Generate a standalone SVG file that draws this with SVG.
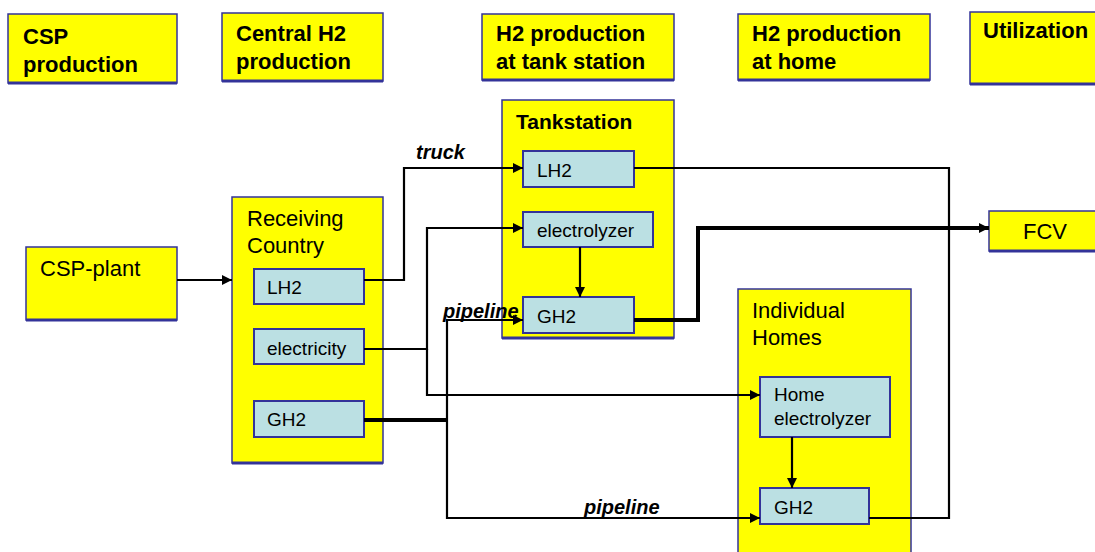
<svg xmlns="http://www.w3.org/2000/svg" width="1095" height="552" viewBox="0 0 1095 552">
<style>
.box{fill:#FFFF00;stroke:#333399;stroke-width:1.5}
.sub{fill:#BBE0E3;stroke:#333399;stroke-width:2}
.sh{stroke:#333399;stroke-width:3;fill:none}
.hd{font-family:"Liberation Sans",Arial,sans-serif;font-weight:bold;font-size:22px;fill:#000}
.tt{font-family:"Liberation Sans",Arial,sans-serif;font-size:22px;fill:#000}
.tb{font-family:"Liberation Sans",Arial,sans-serif;font-weight:bold;font-size:21px;fill:#000}
.st{font-family:"Liberation Sans",Arial,sans-serif;font-size:19px;fill:#000}
.lb{font-family:"Liberation Sans",Arial,sans-serif;font-weight:bold;font-style:italic;font-size:20px;fill:#000}
.c{fill:none;stroke:#000;stroke-width:2.2}
.ck{fill:none;stroke:#000;stroke-width:4}
</style>
<defs>
<marker id="ah" markerUnits="userSpaceOnUse" markerWidth="10" markerHeight="10" refX="10" refY="5" orient="auto">
<path d="M0,0 L10,5 L0,10 z" fill="#000"/>
</marker>
</defs>
<rect width="1095" height="552" fill="#fff"/>

<g id="hdr-csp">
<rect class="box" x="8" y="14" width="169" height="69"/><line class="sh" x1="8" y1="83" x2="177" y2="83"/>
<text class="hd" x="23" y="44">CSP</text><text class="hd" x="23" y="72">production</text>
</g>
<g id="hdr-central">
<rect class="box" x="222" y="13" width="161" height="68"/><line class="sh" x1="222" y1="81" x2="383" y2="81"/>
<text class="hd" x="236" y="41">Central H2</text><text class="hd" x="236" y="69">production</text>
</g>
<g id="hdr-tank">
<rect class="box" x="482" y="14" width="192" height="66"/><line class="sh" x1="482" y1="80" x2="674" y2="80"/>
<text class="hd" x="496" y="41">H2 production</text><text class="hd" x="496" y="69">at tank station</text>
</g>
<g id="hdr-home">
<rect class="box" x="738" y="14" width="192" height="66"/><line class="sh" x1="738" y1="80" x2="930" y2="80"/>
<text class="hd" x="752" y="41">H2 production</text><text class="hd" x="752" y="69">at home</text>
</g>
<g id="hdr-util">
<rect class="box" x="970" y="12" width="130" height="72"/><line class="sh" x1="970" y1="84" x2="1095" y2="84"/>
<text class="hd" x="983" y="38">Utilization</text>
</g>

<g id="csp-plant">
<rect class="box" x="26" y="247" width="151" height="73"/><line class="sh" x1="26" y1="320" x2="177" y2="320"/>
<text class="tt" x="40" y="276">CSP-plant</text>
</g>

<g id="receiving">
<rect class="box" x="232" y="197" width="151" height="266"/><line class="sh" x1="232" y1="463" x2="383" y2="463"/>
<text class="tt" x="247" y="226">Receiving</text><text class="tt" x="247" y="253">Country</text>
</g>
<g id="rc-lh2"><rect class="sub" x="254" y="269" width="110" height="35"/><text class="st" x="267" y="294">LH2</text></g>
<g id="rc-elec"><rect class="sub" x="254" y="329" width="110" height="35"/><text class="st" x="267" y="355">electricity</text></g>
<g id="rc-gh2"><rect class="sub" x="254" y="401" width="110" height="36"/><text class="st" x="267" y="426">GH2</text></g>

<g id="tankstation">
<rect class="box" x="502" y="100" width="172" height="238"/><line class="sh" x1="502" y1="338" x2="674" y2="338"/>
<text class="tb" x="516" y="129">Tankstation</text>
</g>
<g id="ts-lh2"><rect class="sub" x="523" y="151" width="111" height="36"/><text class="st" x="537" y="177">LH2</text></g>
<g id="ts-elec"><rect class="sub" x="523" y="212" width="130" height="35"/><text class="st" x="537" y="237">electrolyzer</text></g>
<g id="ts-gh2"><rect class="sub" x="523" y="297" width="111" height="36"/><text class="st" x="537" y="323">GH2</text></g>

<g id="fcv">
<rect class="box" x="989" y="211" width="110" height="40"/><line class="sh" x1="989" y1="251" x2="1095" y2="251"/>
<text class="tt" x="1023" y="239">FCV</text>
</g>

<g id="homes">
<rect class="box" x="738" y="289" width="173" height="270"/>
<text class="tt" x="752" y="318">Individual</text><text class="tt" x="752" y="345">Homes</text>
</g>
<g id="home-elec"><rect class="sub" x="760" y="377" width="130" height="60"/><text class="st" x="774" y="401">Home</text><text class="st" x="774" y="425">electrolyzer</text></g>
<g id="home-gh2"><rect class="sub" x="760" y="488" width="109" height="36"/><text class="st" x="774" y="514">GH2</text></g>

<g id="connectors">
<path class="c" d="M177,280 H232" marker-end="url(#ah)"/>
<path class="c" d="M364,280 H404 V168 H523" marker-end="url(#ah)"/>
<path class="c" d="M364,349 H427 V228 H523" marker-end="url(#ah)"/>
<path class="c" d="M427,349 V395 H760" marker-end="url(#ah)"/>
<path class="ck" d="M364,420 H447"/>
<path class="c" d="M447,420 V320 H523" marker-end="url(#ah)"/>
<path class="c" d="M447,420 V518 H760" marker-end="url(#ah)"/>
<path class="c" d="M580,247 V297" marker-end="url(#ah)"/>
<path class="ck" d="M634,320 H698 V228 H989" marker-end="url(#ah)"/>
<path class="c" d="M634,168 H949 V518 H869"/>
<path class="c" d="M792,437 V488" marker-end="url(#ah)"/>
<text class="lb" x="416" y="159">truck</text>
<text class="lb" x="443" y="318">pipeline</text>
<text class="lb" x="584" y="514">pipeline</text>
</g>
</svg>
